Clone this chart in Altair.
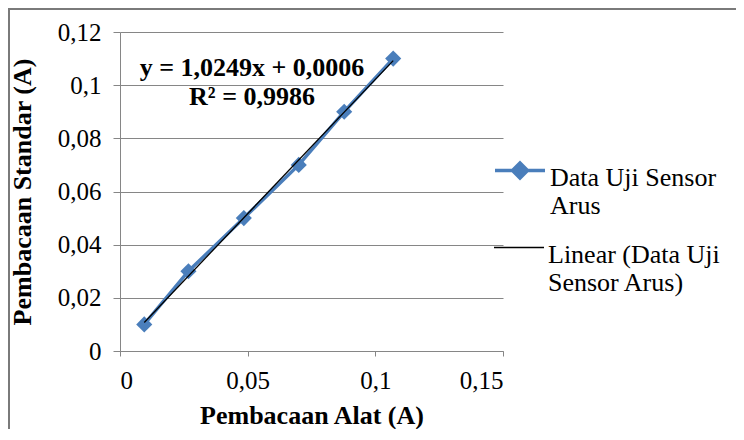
import altair as alt
import pandas as pd

# ---- data ----
alat = [0.0095, 0.0268, 0.0485, 0.0700, 0.0878, 0.1070]      # Pembacaan Alat (A)
standar = [0.01, 0.03, 0.05, 0.07, 0.09, 0.11]               # Pembacaan Standar (A)
series_name = "Data Uji Sensor Arus"
trend_name = "Linear (Data Uji Sensor Arus)"
series_label_lines = ["Data Uji Sensor", "Arus"]
trend_label_lines = ["Linear (Data Uji", "Sensor Arus)"]
equation_lines = ["y = 1,0249x + 0,0006", "R² = 0,9986"]
equation_x = [0.0517, 0.0517]
equation_y = [0.1065, 0.0956]
x_ticks = [0, 0.05, 0.1, 0.15]
y_ticks = [0, 0.02, 0.04, 0.06, 0.08, 0.1, 0.12]

BLUE = "#4A7EBB"
GRAY = "#868686"
FONT = "Liberation Serif"

df = pd.DataFrame({"alat": alat, "standar": standar, "seri": series_name})
eq_df = pd.DataFrame({"x": equation_x, "y": equation_y, "t": equation_lines})

comma_expr = "replace(format(datum.value, '~g'), '.', ',')"

x_enc = alt.X(
    "alat:Q",
    scale=alt.Scale(domain=[0, 0.15], nice=False),
    axis=alt.Axis(
        values=x_ticks, labelExpr=comma_expr, grid=False,
        tickSize=5, labelPadding=12, titlePadding=9,
    ),
    title="Pembacaan Alat (A)",
)
y_enc = alt.Y(
    "standar:Q",
    scale=alt.Scale(domain=[0, 0.12], nice=False),
    axis=alt.Axis(
        values=y_ticks, labelExpr=comma_expr, grid=True,
        tickSize=7, labelPadding=12, titlePadding=22,
    ),
    title="Pembacaan Standar (A)",
)

series_path = "M-1,0.22L1,0.22M0,-0.08L0.3,0.22L0,0.52L-0.3,0.22Z"
trend_path = "M-1,0.22L1,0.22"

series = alt.Chart(df).mark_line(
    strokeWidth=3.5,
    point=alt.OverlayMarkDef(shape="diamond", size=260, filled=True),
).encode(
    x=x_enc,
    y=y_enc,
    color=alt.Color(
        "seri:N",
        scale=alt.Scale(domain=[series_name], range=[BLUE]),
        legend=alt.Legend(
            title=None, orient="none", legendX=373, legendY=106, padding=0,
            symbolType=series_path, symbolSize=2500, symbolStrokeWidth=3.5,
            symbolFillColor=BLUE, symbolStrokeColor=BLUE,
            labelFont=FONT, labelFontSize=26, labelColor="black", labelLimit=400,
            labelBaseline="top", labelOffset=3,
            labelExpr=str(series_label_lines),
        ),
    ),
)

trend = alt.Chart(df).transform_regression(
    "alat", "standar", method="linear"
).transform_calculate(
    tren=f"'{trend_name}'"
).mark_line(strokeWidth=1.3).encode(
    x="alat:Q",
    y="standar:Q",
    stroke=alt.Stroke(
        "tren:N",
        scale=alt.Scale(domain=[trend_name], range=["black"]),
        legend=alt.Legend(
            title=None, orient="none", legendX=373, legendY=184, padding=0,
            symbolType=trend_path, symbolSize=2500, symbolStrokeWidth=1.5,
            symbolStrokeColor="black",
            labelFont=FONT, labelFontSize=26, labelColor="black", labelLimit=400,
            labelBaseline="top", labelOffset=3,
            labelExpr=str(trend_label_lines),
        ),
    ),
)

equation = alt.Chart(eq_df).mark_text(
    font=FONT, fontSize=26, fontWeight="bold", color="black",
    align="center", baseline="middle",
).encode(x="x:Q", y="y:Q", text="t:N")

frame_df = pd.DataFrame({"k": [0]})
top_border = alt.Chart(frame_df).mark_rule(color="#7a7a7a", strokeWidth=2).encode(
    x=alt.value(-113), x2=alt.value(616), y=alt.value(-23)
)
left_border = alt.Chart(frame_df).mark_rule(color="#7a7a7a", strokeWidth=2).encode(
    x=alt.value(-111), y=alt.value(-24), y2=alt.value(400)
)

chart = alt.layer(series, trend, equation, top_border, left_border).resolve_legend(
    color="independent", stroke="independent"
).properties(
    width=383,
    height=319,
    autosize=alt.AutoSizeParams(type="none"),
    padding={"left": 112, "top": 24, "right": 233, "bottom": 78},
    background="white",
).configure(font=FONT).configure_view(stroke=None).configure_axis(
    domainColor=GRAY, tickColor=GRAY, gridColor=GRAY, gridWidth=1,
    labelFont=FONT, labelFontSize=25, labelColor="black",
    titleFont=FONT, titleFontSize=26, titleFontWeight="bold", titleColor="black",
)

chart.save("out.html", embed_options={"renderer": "svg", "actions": False})
